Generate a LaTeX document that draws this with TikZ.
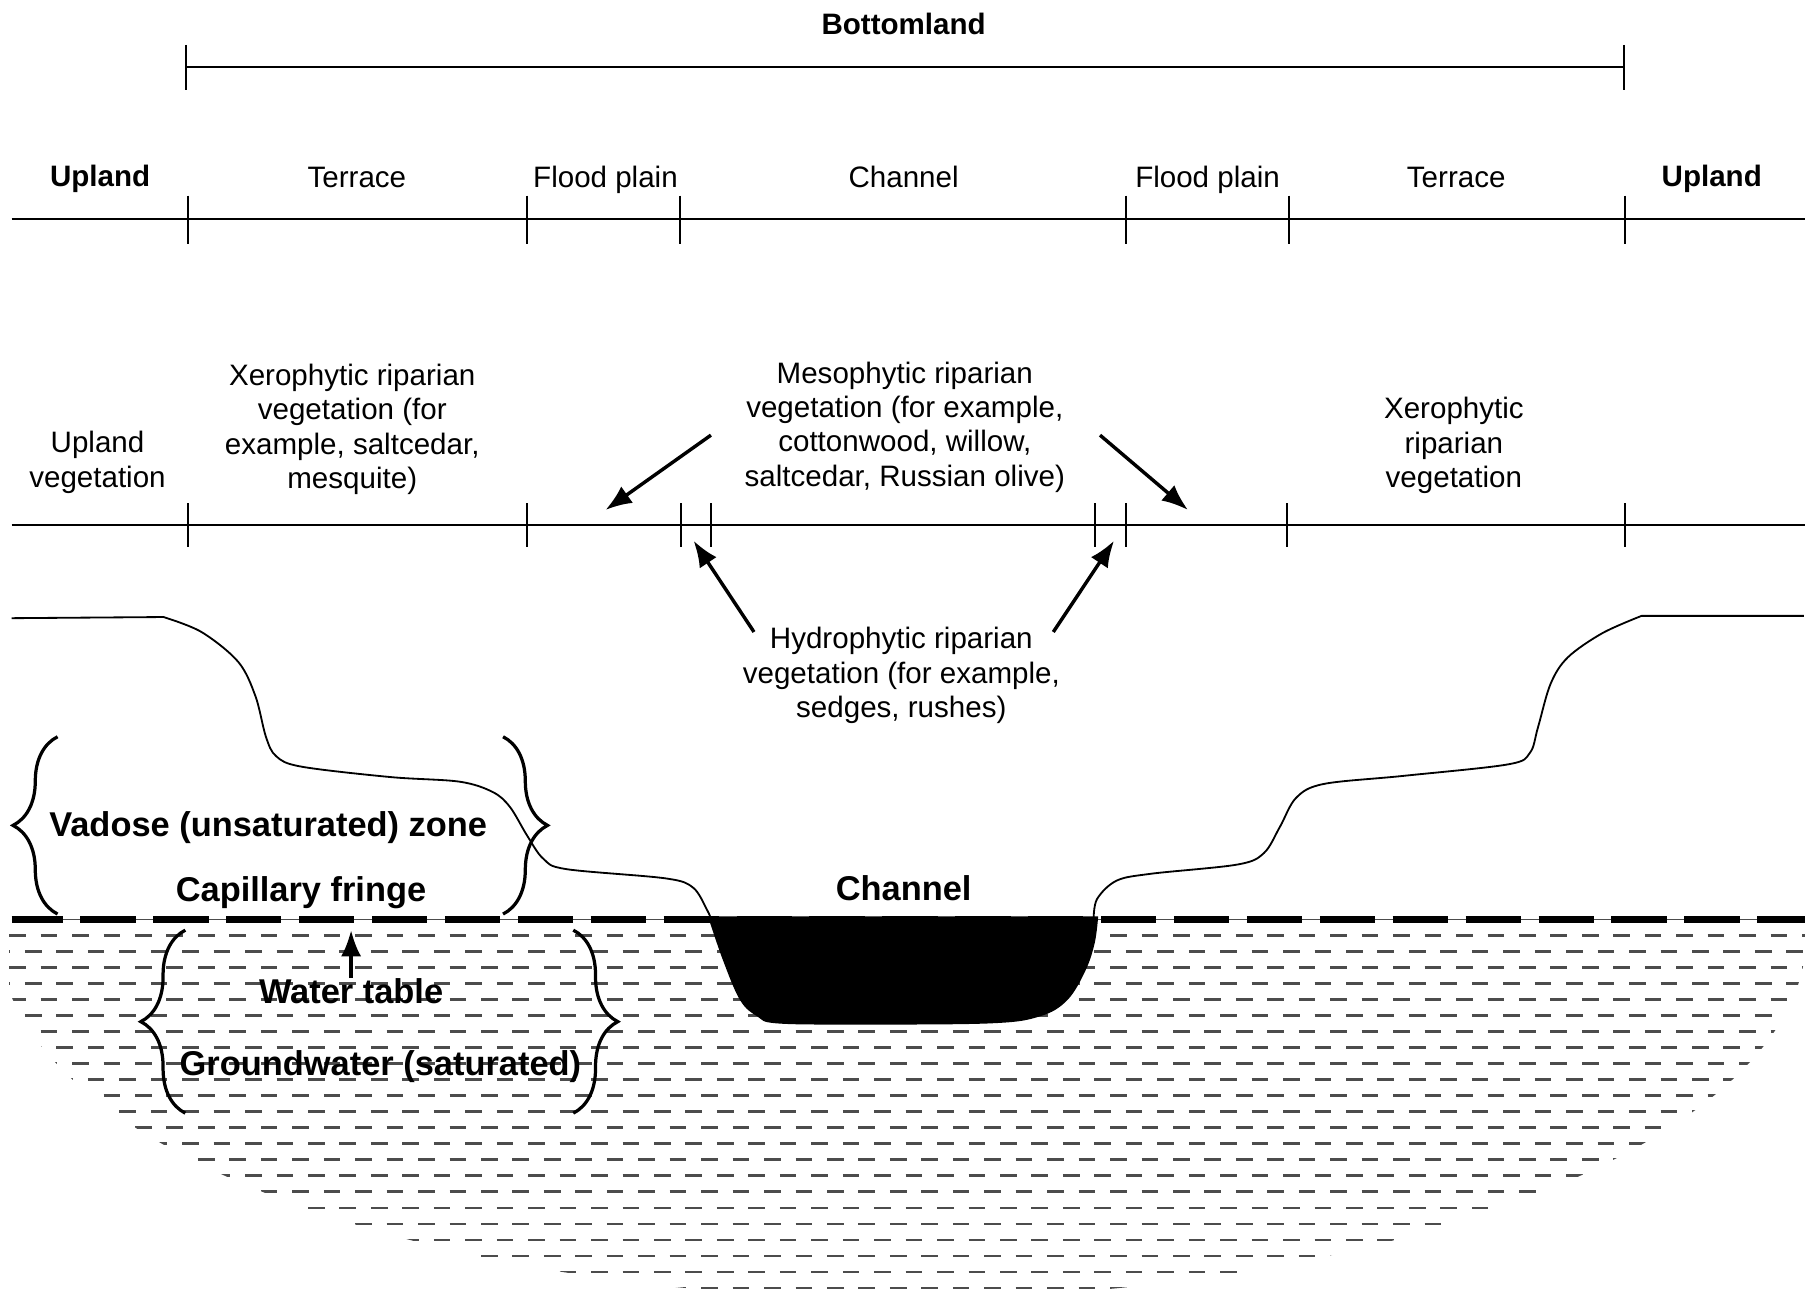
\documentclass[tikz,border=0pt]{standalone}
\usepackage{fontspec}
\setmainfont{Liberation Sans}
\usepackage{tikz}
\usetikzlibrary{arrows.meta, decorations.pathreplacing, calc}

\begin{document}
\begin{tikzpicture}[x=0.01cm, y=-0.01cm,
    lbl/.style={inner sep=0pt, font=\fontsize{7.3}{8.5}\selectfont, align=center},
    blbl/.style={inner sep=0pt, font=\fontsize{7.3}{8.5}\selectfont\bfseries, anchor=base},
    zlbl/.style={inner sep=0pt, font=\fontsize{8.5}{10}\selectfont\bfseries, anchor=base},
    ax/.style={line width=0.5pt},
    arr/.style={line width=0.85pt, -{Latex[length=6.5pt,width=5pt]}},
    brc/.style={line width=0.8pt, decorate, decoration={brace, amplitude=11pt}}]
\useasboundingbox (0,0) rectangle (1568,1126);

% groundwater
\begin{scope}
\clip (784,813) ellipse [x radius=785, y radius=315];
\foreach \k in {0,...,22} {
    \pgfmathsetmacro\yy{813+13.9*\k}
    \pgfmathsetmacro\ph{mod(\k,2)*3.88}
    \draw[black!70, line width=0.7pt, dash pattern=on 4.1pt off 3.67pt, dash phase=\ph pt] (8,\yy) -- (1568,\yy);
}
\end{scope}

% ground surface
\draw[line width=0.45pt] (10,537) -- plot[smooth, tension=0.55] coordinates {(142,536) (175,549) (207,575) (222,605) (231,640) (240,657) (262,666) (339,675) (399,679) (428,688) (443,701) (458,726) (472,746) (492,755) (578,763) (602,771) (614,790) (618,799)};
\draw[line width=0.45pt] plot[smooth, tension=0.55] coordinates {(950,799) (953,781) (970,765) (1000,759) (1075,751) (1098,741) (1112,718) (1126,693) (1150,681) (1219,674) (1310,664) (1329,654) (1336,632) (1347,594) (1362,571) (1392,550) (1426,535)} -- (1567,535);

% water table
\draw[black!70, line width=0.3pt] (10,799) -- (1568,799);
\draw[line width=1.8pt, dash pattern=on 13.66pt off 4.35pt, dash phase=1pt] (10,799) -- (1568,799);

% channel water
\fill (615,796) -- plot[smooth, tension=0.6] coordinates {(615,796) (628,834) (643,869) (658,883) (675,889) (744,890) (860,889) (903,883) (927,869) (943,843) (951,819) (954,796)} -- cycle;

% bottomland
\node[blbl] (bot) at (785,30) {Bottomland};
\draw[ax] (162,58) -- (1411,58);
\foreach \x in {162,1411} \draw[ax] (\x,39) -- (\x,78);

% landforms
\draw[ax] (10,190) -- (1568,190);
\foreach \x in {163,458,591,978,1120,1412} \draw[ax] (\x,170) -- (\x,212);
\node[blbl] (uplL) at (87,162) {Upland};
\node[blbl] (uplR) at (1487,162) {Upland};
\foreach \x/\t in {310/Terrace, 526/Flood plain, 785/Channel, 1049/Flood plain, 1265/Terrace}
    \node[lbl, anchor=base] (zone\x) at (\x,163) {\t};

% vegetation
\draw[ax] (10,456) -- (1568,456);
\foreach \x in {163,458,592,617.6,951,978,1118,1412} \draw[ax] (\x,437) -- (\x,475);
\node[lbl] (uveg) at (84.7,401.5) {Upland\\vegetation};
\node[lbl] (xeroL) at (306,373) {Xerophytic riparian\\vegetation (for\\example, saltcedar,\\mesquite)};
\node[lbl] (meso) at (786,371) {Mesophytic riparian\\vegetation (for example,\\cottonwood, willow,\\saltcedar, Russian olive)};
\node[lbl] (xeroR) at (1263,387) {Xerophytic\\riparian\\vegetation};
\node[lbl] (hydro) at (783,587) {Hydrophytic riparian\\vegetation (for example,\\sedges, rushes)};

\coordinate (mesoA) at (617.6,378);
\coordinate (mesoB) at (955.6,378);
\coordinate (hydroA) at (655,549);
\coordinate (hydroB) at (915,549);
\coordinate (fpL) at (526,443);
\coordinate (fpR) at (1032,443);
\coordinate (edgeL) at (602.5,469.7);
\coordinate (edgeR) at (967.8,469.7);
\draw[arr] (mesoA) -- (fpL);
\draw[arr] (mesoB) -- (fpR);
\draw[arr] (hydroA) -- (edgeL);
\draw[arr] (hydroB) -- (edgeR);

% zones
\draw[brc] (50,794) -- (50,640);
\draw[brc] (437,640) -- (437,794);
\draw[brc] (161,967) -- (161,808);
\draw[brc] (498,808) -- (498,967);
\node[zlbl] (vad) at (233,727) {Vadose (unsaturated) zone};
\node[zlbl] (cap) at (261.5,783) {Capillary fringe};
\node[zlbl] (chan) at (785,782) {Channel};
\node[zlbl] (wt) at (305,872) {Water table};
\node[zlbl] (gw) at (330.5,934) {Groundwater (saturated)};
\coordinate (wtab) at (305,808);
\draw[arr] (wt.north) -- (wtab);
\end{tikzpicture}
\end{document}
